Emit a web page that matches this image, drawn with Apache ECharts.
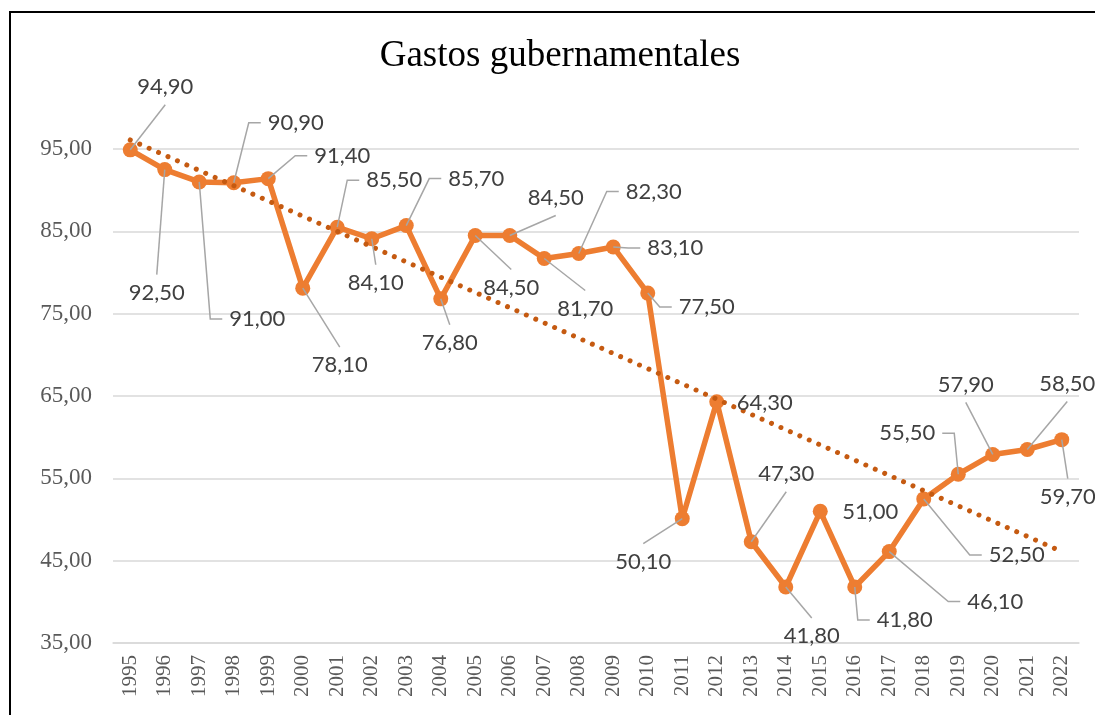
<!DOCTYPE html>
<html>
<head>
<meta charset="utf-8">
<title>Gastos gubernamentales</title>
<script src="https://cdn.jsdelivr.net/npm/echarts@6/dist/echarts.min.js"></script>
<style>
  html, body { margin: 0; padding: 0; background: #fff; overflow: hidden; }
  #frame { position: absolute; left: 9px; top: 11px; width: 2000px; height: 2000px;
           border-left: 2px solid #000; border-top: 2px solid #000; }
  #chart { position: absolute; left: 0; top: 0; width: 1095px; height: 715px; }
</style>
</head>
<body>
<div id="frame"></div>
<div id="chart"></div>
<script>
// años
var years = ['1995','1996','1997','1998','1999','2000','2001','2002','2003','2004',
             '2005','2006','2007','2008','2009','2010','2011','2012','2013','2014',
             '2015','2016','2017','2018','2019','2020','2021','2022'];
// gastos
var gastos = [94.9, 92.5, 91.0, 90.9, 91.4, 78.1, 85.5, 84.1, 85.7, 76.8,
              84.5, 84.5, 81.7, 82.3, 83.1, 77.5, 50.1, 64.3, 47.3, 41.8,
              51.0, 41.8, 46.1, 52.5, 55.5, 57.9, 58.5, 59.7];
// linea de tendencia (extremos)
var tendencia = [96.1, null, null, null, null, null, null, null, null, null,
                 null, null, null, null, null, null, null, null, null, null,
                 null, null, null, null, null, null, null, 46.1];
var yTicks = { min: 35, max: 95, step: 10 };

// etiqueta: desplazamiento desde el punto y lado de la guia
var labelOffsets = [[35,-63],[-8,123],[58,137],[62,-60],[74,-23],[37,77],[57,-47],[4,44],
                    [70,-47],[9,44],[36,52],[46,-38],[41,50],[75,-62],[62,1],[59,14],
                    [-39,43],[48,1],[35,-68],[26,49],[50,1],[50,33],[106,50],[93,56],
                    [-51,-41],[-27,-70],[40,-66],[6,57]];
var leaderSide = ['bottom','top','left','left','left','top','left','top','left','top',
                  'top','bottom','top','left','left','left','top','none','bottom','top',
                  'none','left','left','left','right','bottom','bottom','top'];

function fmt(v) { return v.toFixed(2).replace('.', ','); }

var chart = echarts.init(document.getElementById('chart'));

var option = {
  animation: false,
  title: {
    text: 'Gastos gubernamentales',
    left: 555, top: 33, textAlign: 'center',
    textStyle: { fontFamily: 'Liberation Serif', fontSize: 37, fontWeight: 'normal', color: '#000' }
  },
  grid: { left: 113, right: 16, top: 149, bottom: 72, outerBoundsMode: 'none' },
  xAxis: {
    type: 'category',
    data: years,
    boundaryGap: true,
    axisLine: { show: true, lineStyle: { color: '#D9D9D9', width: 1.5 } },
    axisTick: { show: false },
    axisLabel: { rotate: 90, interval: 0, margin: 12, color: '#595959',
                 fontFamily: 'Liberation Serif', fontSize: 21 }
  },
  yAxis: {
    type: 'value',
    min: yTicks.min, max: yTicks.max, interval: yTicks.step,
    axisLine: { show: false },
    axisTick: { show: false },
    axisLabel: { margin: 21, color: '#595959', fontFamily: 'Liberation Serif', fontSize: 23,
                 formatter: function (v) { return fmt(v); } },
    splitLine: { lineStyle: { color: '#D9D9D9', width: 1.5 } }
  },
  series: [
    {
      name: 'Gastos',
      type: 'line',
      data: gastos,
      clip: false,
      z: 2,
      symbol: 'circle',
      symbolSize: 15,
      showAllSymbol: true,
      lineStyle: { color: '#ED7D31', width: 5.5, join: 'round' },
      itemStyle: { color: '#ED7D31' }
    },
    {
      name: 'Tendencia',
      type: 'line',
      data: tendencia,
      connectNulls: true,
      clip: false,
      z: 3,
      symbol: 'none',
      lineStyle: { color: '#C55A11', width: 5, type: [0.01, 10.3], cap: 'round' }
    },
    {
      name: 'Etiquetas',
      type: 'custom',
      clip: false,
      z: 5,
      data: gastos.map(function (v, i) { return [i, v]; }),
      encode: { x: 0, y: 1 },
      renderItem: function (params, api) {
        var i = params.dataIndex;
        var v = api.value(1);
        var p = api.coord([api.value(0), v]);
        var off = labelOffsets[i];
        var cx = p[0] + off[0], cy = p[1] + off[1];
        var halfW = 27, gapX = 8, gapY = 18, stub = 12;
        var side = leaderSide[i];
        var children = [];
        var pts = null;
        if (side === 'left') {
          var ax = cx - halfW - gapX;
          pts = [p, [ax - stub, cy], [ax, cy]];
        } else if (side === 'right') {
          var bx = cx + halfW + gapX;
          pts = [p, [bx + stub, cy], [bx, cy]];
        } else if (side === 'top') {
          pts = [p, [cx, cy - gapY]];
        } else if (side === 'bottom') {
          pts = [p, [cx, cy + gapY]];
        }
        if (pts) {
          children.push({
            type: 'polyline',
            shape: { points: pts },
            style: { stroke: '#A6A6A6', lineWidth: 1.5, fill: null }
          });
        }
        children.push({
          type: 'text',
          x: cx, y: cy,
          style: { text: fmt(v), fill: '#404040', fontFamily: 'Lato', fontSize: 22,
                   align: 'center', verticalAlign: 'middle' }
        });
        return { type: 'group', children: children };
      }
    }
  ]
};

chart.setOption(option);
</script>
</body>
</html>
